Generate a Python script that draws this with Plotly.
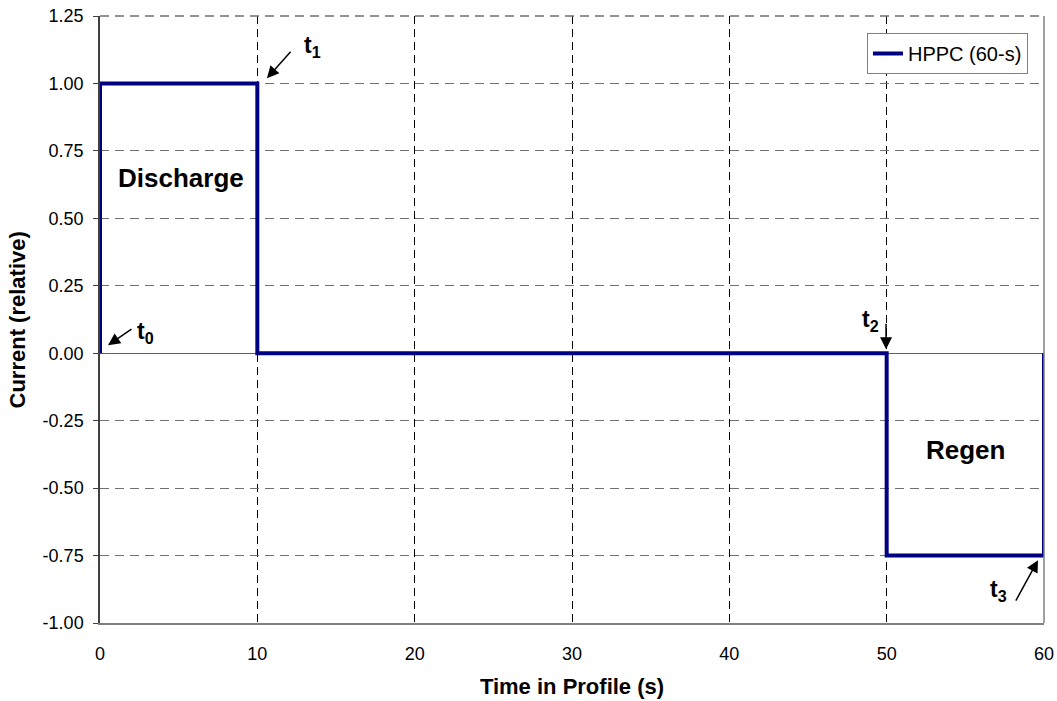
import plotly.graph_objects as go

# Data: HPPC (60-s) relative current profile
time_s = [0, 0, 10, 10, 50, 50, 60, 60]
current_rel = [0, 1.0, 1.0, 0, 0, -0.75, -0.75, 0]

x_ticks = [0, 10, 20, 30, 40, 50, 60]
y_ticks = [-1.0, -0.75, -0.5, -0.25, 0.0, 0.25, 0.5, 0.75, 1.0, 1.25]
y_tick_text = ["{:.2f}".format(v) for v in y_ticks]

FONT = "Liberation Sans, Arial, sans-serif"

fig = go.Figure()
fig.add_trace(go.Scatter(
    x=time_s, y=current_rel, mode="lines", name="HPPC (60-s)",
    line=dict(color="#000080", width=4),
))

fig.update_layout(
    width=1057, height=701,
    margin=dict(l=100, r=13, t=16, b=78),
    paper_bgcolor="white", plot_bgcolor="white",
    font=dict(family=FONT, color="black", size=18),
    showlegend=True,
    legend=dict(x=0.983, y=0.972, xanchor="right", yanchor="top",
                bgcolor="white", bordercolor="#808080", borderwidth=1,
                font=dict(size=20, family=FONT), itemwidth=30,
                tracegroupgap=0),
    xaxis=dict(range=[0, 60], tickvals=x_ticks, ticktext=[str(v) for v in x_ticks],
               automargin=False, ticklabeloverflow="allow",
               showgrid=True, gridcolor="black", gridwidth=1, griddash="8px,5px",
               showline=True, linecolor="#808080", linewidth=1.5,
               zeroline=False, ticks="", ticklabelstandoff=14,
               tickfont=dict(size=18, family=FONT),
               title=dict(text="<b>Time in Profile (s)</b>", font=dict(size=22, family=FONT),
                          standoff=15)),
    yaxis=dict(range=[-1.0, 1.25], tickvals=y_ticks, ticktext=y_tick_text,
               automargin=False, ticklabeloverflow="allow",
               showgrid=True, gridcolor="#707070", gridwidth=1, griddash="9px,6px",
               showline=True, linecolor="#404040", linewidth=1.5,
               zeroline=True, zerolinecolor="#606060", zerolinewidth=1.2,
               ticks="outside", ticklen=5, tickcolor="#404040",
               ticklabelstandoff=6,
               tickfont=dict(size=18, family=FONT)),
)

# y-axis title
fig.add_annotation(xref="paper", yref="paper", x=-0.0869, y=0.5,
                   text="<b>Current (relative)</b>", textangle=-90, showarrow=False,
                   xanchor="center", yanchor="middle",
                   font=dict(size=22, family=FONT, color="black"))

# plot-area border: right solid, top dashed (grid style)
fig.add_shape(type="line", xref="paper", yref="paper", x0=1, x1=1, y0=0, y1=1,
              line=dict(color="#808080", width=1.5))
fig.add_shape(type="line", xref="paper", yref="paper", x0=0, x1=1, y0=1, y1=1,
              line=dict(color="#707070", width=1.5, dash="9px,6px"))

# region labels
fig.add_annotation(x=5.15, y=0.65, text="<b>Discharge</b>", showarrow=False,
                   font=dict(size=26, family=FONT, color="black"))
fig.add_annotation(x=54.98, y=-0.36, text="<b>Regen</b>", showarrow=False,
                   font=dict(size=26, family=FONT, color="black"))

# time markers: arrows
arrows = [
    (0.51, 0.03, 25, -17),
    (10.61, 1.019, 25, -28),
    (49.96, 0.015, 0, -27),
    (59.62, -0.767, -23, 42),
]
for (ax_, ay_, dx, dy) in arrows:
    fig.add_annotation(x=ax_, y=ay_, ax=dx, ay=dy, text="", showarrow=True,
                       arrowhead=2, arrowsize=1.6, arrowwidth=1.5, arrowcolor="black")

labels = [
    (2.92, 0.078, "<b>t<sub>0</sub></b>"),
    (13.5, 1.137, "<b>t<sub>1</sub></b>"),
    (49.0, 0.122, "<b>t<sub>2</sub></b>"),
    (57.08, -0.878, "<b>t<sub>3</sub></b>"),
]
for (lx, ly, txt) in labels:
    fig.add_annotation(x=lx, y=ly, text=txt, showarrow=False,
                       font=dict(size=23, family=FONT, color="black"))

# remove the browser's default 8px body margin so the figure fills the window
fig.write_html("out.html",
               config={"displayModeBar": False},
               post_script="document.body.style.margin='0';document.body.style.overflow='hidden';")
